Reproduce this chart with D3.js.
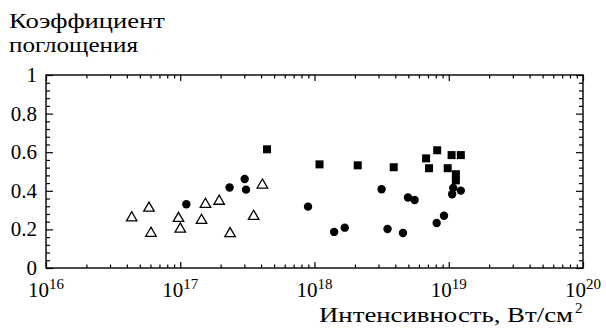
<!DOCTYPE html>
<html>
<head>
<meta charset="utf-8">
<script src="https://cdn.jsdelivr.net/npm/d3@7"></script>
<style>
  body { margin: 0; background: #fff; }
</style>
</head>
<body>
<svg id="chart" width="606" height="329"></svg>
<script>
// data (intensity in W/cm^2, absorption coefficient)
var triX = [4.35e16, 5.85e16, 6.05e16, 9.7e16, 1.0e17, 1.44e17, 1.54e17, 1.95e17, 2.35e17, 3.52e17, 4.09e17]
var triY = [0.26, 0.31, 0.18, 0.257, 0.202, 0.247, 0.33, 0.346, 0.178, 0.268, 0.43]

var circX = [1.11e17, 2.33e17, 3.02e17, 3.09e17, 8.95e17, 1.4e18, 1.68e18, 3.16e18, 3.5e18, 4.56e18, 4.97e18, 5.57e18, 8.13e18, 9.22e18, 1.06e19, 1.08e19, 1.23e19]
var circY = [0.33, 0.417, 0.461, 0.406, 0.318, 0.187, 0.209, 0.408, 0.202, 0.181, 0.365, 0.352, 0.233, 0.271, 0.382, 0.415, 0.401]

var sqX = [4.43e17, 1.09e18, 2.1e18, 3.89e18, 6.78e18, 8.2e18, 7.13e18, 9.82e18, 1.05e19, 1.23e19, 1.13e19, 1.13e19]
var sqY = [0.615, 0.537, 0.532, 0.522, 0.568, 0.61, 0.517, 0.517, 0.585, 0.585, 0.486, 0.454]

var xMajor = [1e16, 1e17, 1e18, 1e19, 1e20]
var xExp = ["16", "17", "18", "19", "20"]
var yMajor = [0, 0.2, 0.4, 0.6, 0.8, 1]
var yLabels = ["0", "0.2", "0.4", "0.6", "0.8", "1"]

var yTitle = ["Коэффициент", "поглощения"]
var xTitle = "Интенсивность, Вт/см"

var serif = "'Liberation Serif', 'DejaVu Serif', 'Times New Roman', serif"

//
// layout
//
var pLeft = 46, pRight = 583, pTop = 75, pBottom = 268

var svg = d3.select("#chart").attr("font-family", serif)

var x = d3.scaleLog().domain([1e16, 1e20]).range([pLeft, pRight])
var y = d3.scaleLinear().domain([0, 1]).range([pBottom, pTop])

// minor ticks
var xMinor = []
for (var e = 16; e < 20; e++) {
  for (var m = 2; m <= 9; m++) xMinor.push(m * Math.pow(10, e))
}
var yMinor = d3.range(0, 1.0001, 0.04).filter(function(v) {
  return Math.abs(v * 5 - Math.round(v * 5)) > 1e-6
})

function tickAxis(axisFn, scale, values, size, tx, ty) {
  var g = svg.append("g")
    .attr("transform", "translate(" + tx + "," + ty + ")")
    .call(axisFn(scale).tickValues(values).tickSize(size).tickFormat(""))
  g.select(".domain").remove()
  g.selectAll("line").attr("stroke", "#000").attr("stroke-width", 1.2)
  return g
}

// bottom / top
tickAxis(d3.axisBottom, x, xMajor, -6, 0, pBottom)
tickAxis(d3.axisBottom, x, xMinor, -3.5, 0, pBottom)
tickAxis(d3.axisTop, x, xMajor, -6, 0, pTop)
tickAxis(d3.axisTop, x, xMinor, -3.5, 0, pTop)
// left / right
tickAxis(d3.axisLeft, y, yMajor, -7, pLeft, 0)
tickAxis(d3.axisLeft, y, yMinor, -4, pLeft, 0)
tickAxis(d3.axisRight, y, yMajor, -7, pRight, 0)
tickAxis(d3.axisRight, y, yMinor, -4, pRight, 0)

// frame
svg.append("rect")
  .attr("x", pLeft).attr("y", pTop)
  .attr("width", pRight - pLeft).attr("height", pBottom - pTop)
  .attr("fill", "none").attr("stroke", "#000").attr("stroke-width", 1.4)

// y tick labels
svg.selectAll(".ylab")
  .data(yMajor)
  .enter().append("text")
  .attr("class", "ylab")
  .attr("x", pLeft - 9)
  .attr("y", function(d) { return y(d) + 7 })
  .attr("text-anchor", "end")
  .style("font-size", "21px")
  .text(function(d, i) { return yLabels[i] })

// x tick labels 10^n
var xl = svg.selectAll(".xlab")
  .data(xMajor)
  .enter().append("text")
  .attr("class", "xlab")
  .attr("x", function(d) { return x(d) })
  .attr("y", 297)
  .attr("text-anchor", "middle")
  .style("font-size", "21px")
xl.append("tspan").text("10")
xl.append("tspan")
  .attr("dy", -8)
  .style("font-size", "15px")
  .text(function(d, i) { return xExp[i] })

// axis titles (stretched to the width they take in the picture)
var yTitleW = [156, 129]
svg.selectAll(".ytitle")
  .data(yTitle)
  .enter().append("text")
  .attr("class", "ytitle")
  .attr("x", 9)
  .attr("y", function(d, i) { return 28 + i * 24 })
  .attr("textLength", function(d, i) { return yTitleW[i] })
  .attr("lengthAdjust", "spacingAndGlyphs")
  .style("font-size", "21px")
  .text(function(d) { return d })

svg.append("text")
  .attr("x", 319)
  .attr("y", 322)
  .attr("textLength", 254)
  .attr("lengthAdjust", "spacingAndGlyphs")
  .style("font-size", "21px")
  .text(xTitle)
svg.append("text")
  .attr("x", 575)
  .attr("y", 313)
  .style("font-size", "15px")
  .text("2")

//
// markers
//
var triPath = d3.symbol().type(d3.symbolTriangle).size(48)

svg.selectAll(".tri")
  .data(d3.range(triX.length))
  .enter().append("path")
  .attr("class", "tri")
  .attr("d", triPath)
  .attr("transform", function(i) { return "translate(" + x(triX[i]) + "," + y(triY[i]) + ")" })
  .attr("fill", "#fff")
  .attr("stroke", "#000")
  .attr("stroke-width", 1.3)

svg.selectAll(".circ")
  .data(d3.range(circX.length))
  .enter().append("circle")
  .attr("class", "circ")
  .attr("cx", function(i) { return x(circX[i]) })
  .attr("cy", function(i) { return y(circY[i]) })
  .attr("r", 4.2)
  .attr("fill", "#000")

svg.selectAll(".sq")
  .data(d3.range(sqX.length))
  .enter().append("rect")
  .attr("class", "sq")
  .attr("x", function(i) { return x(sqX[i]) - 4 })
  .attr("y", function(i) { return y(sqY[i]) - 4 })
  .attr("width", 8)
  .attr("height", 8)
  .attr("fill", "#000")
</script>
</body>
</html>
